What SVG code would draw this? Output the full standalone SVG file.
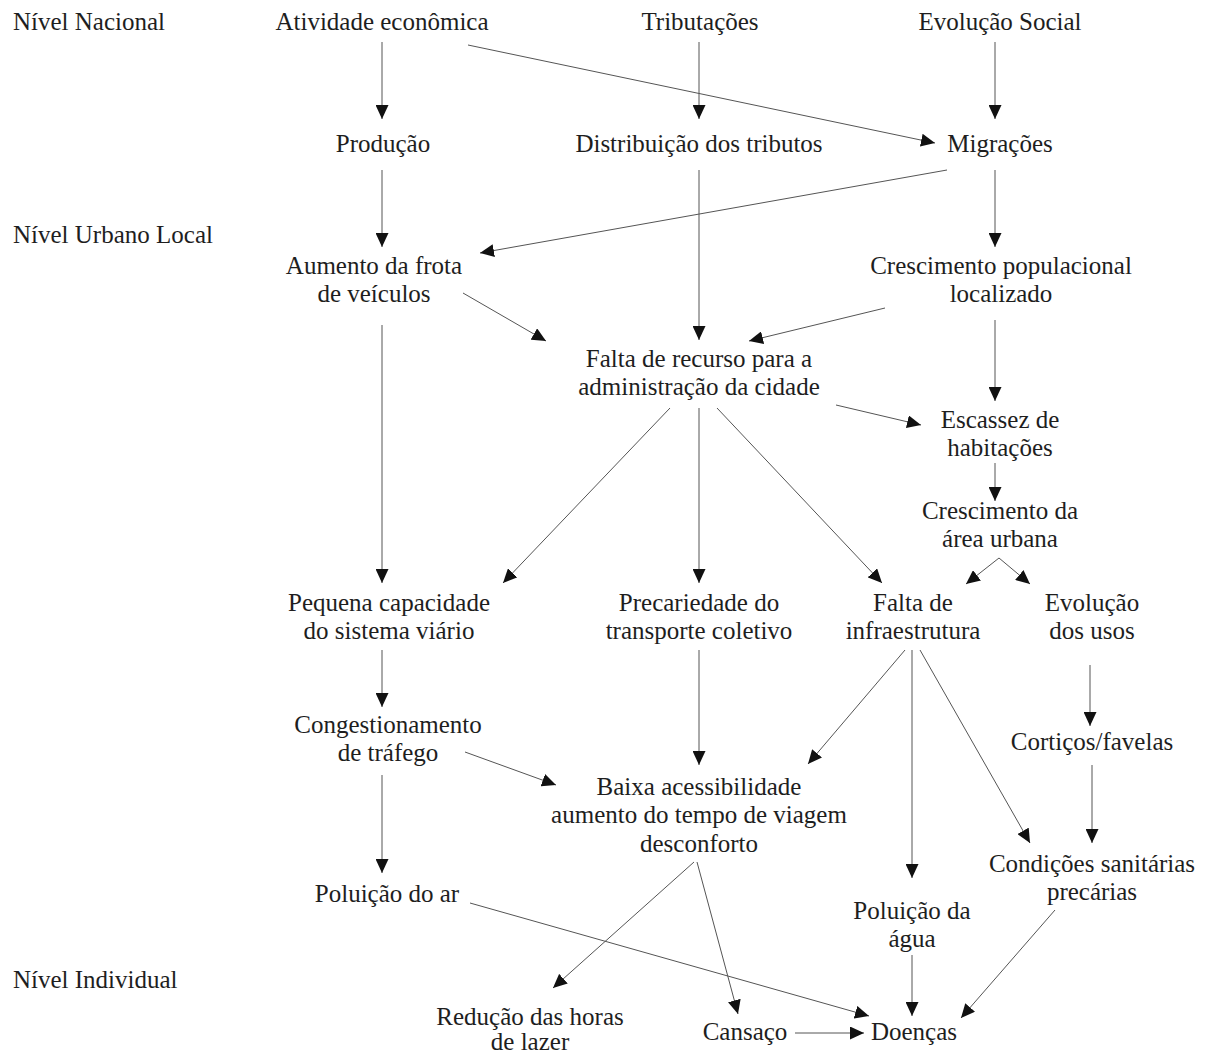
<svg xmlns="http://www.w3.org/2000/svg" width="1208" height="1054" viewBox="0 0 1208 1054">
  <style>
    text { font-family: "Liberation Serif", "Times New Roman", serif; font-size: 25px; fill: #1e1e1e; }
    .c { text-anchor: middle; }
    .lvl { text-anchor: start; }
    #connectors line { stroke: #555; stroke-width: 1; fill: none; marker-end: url(#arrow); }
  </style>
  <defs>
    <marker id="arrow" markerUnits="userSpaceOnUse" markerWidth="15" markerHeight="13" refX="14" refY="6.5" orient="auto">
      <path d="M0,0 L14,6.5 L0,13 z" fill="#111"/>
    </marker>
  </defs>
  <rect width="1208" height="1054" fill="#fff"/>

  <!-- level labels -->
  <g id="levels">
    <text class="lvl" x="13" y="30">Nível Nacional</text>
    <text class="lvl" x="13" y="243">Nível Urbano Local</text>
    <text class="lvl" x="13" y="988">Nível Individual</text>
  </g>

  <!-- connectors -->
  <g id="connectors">
    <line x1="382" y1="42" x2="382" y2="119"/>
    <line x1="699" y1="42" x2="699" y2="119"/>
    <line x1="995" y1="42" x2="995" y2="119"/>
    <line x1="468" y1="45" x2="935" y2="143"/>

    <line x1="382" y1="170" x2="382" y2="247"/>
    <line x1="699" y1="170" x2="699" y2="340"/>
    <line x1="947" y1="170" x2="480" y2="253"/>
    <line x1="995" y1="170" x2="995" y2="247"/>

    <line x1="463" y1="293" x2="546" y2="341"/>
    <line x1="885" y1="308" x2="749" y2="341"/>
    <line x1="382" y1="325" x2="382" y2="583"/>
    <line x1="995" y1="320" x2="995" y2="401"/>
    <line x1="836" y1="405" x2="921" y2="425"/>

    <line x1="995" y1="463" x2="995" y2="501"/>
    <line x1="999" y1="558" x2="966" y2="584"/>
    <line x1="999" y1="558" x2="1030" y2="584"/>

    <line x1="670" y1="408" x2="503" y2="583"/>
    <line x1="699" y1="408" x2="699" y2="583"/>
    <line x1="717" y1="408" x2="882" y2="583"/>

    <line x1="382" y1="650" x2="382" y2="707"/>
    <line x1="699" y1="650" x2="699" y2="765"/>
    <line x1="905" y1="650" x2="808" y2="764"/>
    <line x1="912" y1="650" x2="912" y2="878"/>
    <line x1="920" y1="650" x2="1030" y2="843"/>
    <line x1="1090" y1="665" x2="1090" y2="726"/>
    <line x1="1092" y1="765" x2="1092" y2="843"/>

    <line x1="465" y1="752" x2="556" y2="785"/>
    <line x1="382" y1="775" x2="382" y2="873"/>

    <line x1="694" y1="862" x2="553" y2="988"/>
    <line x1="697" y1="862" x2="738" y2="1014"/>
    <line x1="470" y1="903" x2="869" y2="1016"/>
    <line x1="912" y1="955" x2="912" y2="1016"/>
    <line x1="1055" y1="910" x2="961" y2="1018"/>
    <line x1="795" y1="1033" x2="864" y2="1033"/>
  </g>

  <!-- nodes -->
  <g id="n-atividade"><text class="c" x="382" y="30">Atividade econômica</text></g>
  <g id="n-tributacoes"><text class="c" x="700" y="30">Tributações</text></g>
  <g id="n-evolucao-social"><text class="c" x="1000" y="30">Evolução Social</text></g>

  <g id="n-producao"><text class="c" x="383" y="152">Produção</text></g>
  <g id="n-distribuicao"><text class="c" x="699" y="152">Distribuição dos tributos</text></g>
  <g id="n-migracoes"><text class="c" x="1000" y="152">Migrações</text></g>

  <g id="n-frota">
    <text class="c" x="374" y="274">Aumento da frota</text>
    <text class="c" x="374" y="302">de veículos</text>
  </g>
  <g id="n-crescimento-pop">
    <text class="c" x="1001" y="274">Crescimento populacional</text>
    <text class="c" x="1001" y="302">localizado</text>
  </g>

  <g id="n-falta-recurso">
    <text class="c" x="699" y="367">Falta de recurso para a</text>
    <text class="c" x="699" y="395">administração da cidade</text>
  </g>
  <g id="n-escassez">
    <text class="c" x="1000" y="428">Escassez de</text>
    <text class="c" x="1000" y="456">habitações</text>
  </g>
  <g id="n-area-urbana">
    <text class="c" x="1000" y="519">Crescimento da</text>
    <text class="c" x="1000" y="547">área urbana</text>
  </g>

  <g id="n-pequena-capacidade">
    <text class="c" x="389" y="611">Pequena capacidade</text>
    <text class="c" x="389" y="639">do sistema viário</text>
  </g>
  <g id="n-precariedade">
    <text class="c" x="699" y="611">Precariedade do</text>
    <text class="c" x="699" y="639">transporte coletivo</text>
  </g>
  <g id="n-infraestrutura">
    <text class="c" x="913" y="611">Falta de</text>
    <text class="c" x="913" y="639">infraestrutura</text>
  </g>
  <g id="n-evolucao-usos">
    <text class="c" x="1092" y="611">Evolução</text>
    <text class="c" x="1092" y="639">dos usos</text>
  </g>

  <g id="n-congestionamento">
    <text class="c" x="388" y="733">Congestionamento</text>
    <text class="c" x="388" y="761">de tráfego</text>
  </g>
  <g id="n-corticos"><text class="c" x="1092" y="750">Cortiços/favelas</text></g>

  <g id="n-baixa-acessibilidade">
    <text class="c" x="699" y="795">Baixa acessibilidade</text>
    <text class="c" x="699" y="823">aumento do tempo de viagem</text>
    <text class="c" x="699" y="852">desconforto</text>
  </g>
  <g id="n-condicoes">
    <text class="c" x="1092" y="872">Condições sanitárias</text>
    <text class="c" x="1092" y="900">precárias</text>
  </g>

  <g id="n-poluicao-ar"><text class="c" x="387" y="902">Poluição do ar</text></g>
  <g id="n-poluicao-agua">
    <text class="c" x="912" y="919">Poluição da</text>
    <text class="c" x="912" y="947">água</text>
  </g>

  <g id="n-reducao">
    <text class="c" x="530" y="1025">Redução das horas</text>
    <text class="c" x="530" y="1050">de lazer</text>
  </g>
  <g id="n-cansaco"><text class="c" x="745" y="1040">Cansaço</text></g>
  <g id="n-doencas"><text class="c" x="914" y="1040">Doenças</text></g>
</svg>
